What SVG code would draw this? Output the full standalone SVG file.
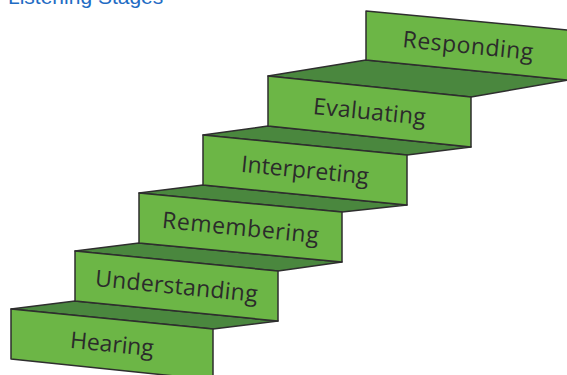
<svg xmlns="http://www.w3.org/2000/svg" width="567" height="375" viewBox="0 0 567 375">
<style>
.face{fill:#6cb646;stroke:#2e2e2e;stroke-width:1.5;stroke-linejoin:round}
.tread{fill:#4a873e;stroke:#2e2e2e;stroke-width:1.5;stroke-linejoin:round}
.lbl{font-family:"Open Sans","Lato",sans-serif;font-size:23px;fill:#2b2b2b;text-anchor:middle}
.title{font-family:"Liberation Sans",Arial,sans-serif;font-size:21px;fill:#1f6cc4}
</style>
<rect width="567" height="375" fill="#ffffff"/>
<text class="title" x="8" y="3.5">Listening Stages</text>
<g id="treads">
<polygon class="tread" points="11,309 213,329 278,321 75,301"/>
<polygon class="tread" points="75,251 278,271 342,262 139,243"/>
<polygon class="tread" points="139,193 342,212 407,205 203,185"/>
<polygon class="tread" points="203,135 407,155 471,147 268,126"/>
<polygon class="tread" points="268,76 471,97 568,80 366,60"/>
</g>
<g id="hearing">
<polygon class="face" points="11,309 213,329 213,380 11,359"/>
<text class="lbl" x="112" y="352" transform="rotate(5.65 112 344)" textLength="84" lengthAdjust="spacing">Hearing</text>
</g>
<g id="understanding">
<polygon class="face" points="75,251 278,271 278,321 75,301"/>
<text class="lbl" x="176.5" y="294" transform="rotate(5.65 176.5 286)" textLength="163" lengthAdjust="spacing">Understanding</text>
</g>
<g id="remembering">
<polygon class="face" points="139,193 342,212 342,262 139,243"/>
<text class="lbl" x="240.5" y="235.5" transform="rotate(5.65 240.5 227.5)" textLength="157" lengthAdjust="spacing">Remembering</text>
</g>
<g id="interpreting">
<polygon class="face" points="203,135 407,155 407,205 203,185"/>
<text class="lbl" x="305" y="178" transform="rotate(5.65 305 170)" textLength="128" lengthAdjust="spacing">Interpreting</text>
</g>
<g id="evaluating">
<polygon class="face" points="268,76 471,97 471,147 268,126"/>
<text class="lbl" x="369.5" y="119.5" transform="rotate(5.65 369.5 111.5)" textLength="113" lengthAdjust="spacing">Evaluating</text>
</g>
<g id="responding">
<polygon class="face" points="366,11 568,30 568,80 366,60"/>
<text class="lbl" x="468" y="53.5" transform="rotate(5.65 468 45.5)" textLength="131" lengthAdjust="spacing">Responding</text>
</g>
</svg>
